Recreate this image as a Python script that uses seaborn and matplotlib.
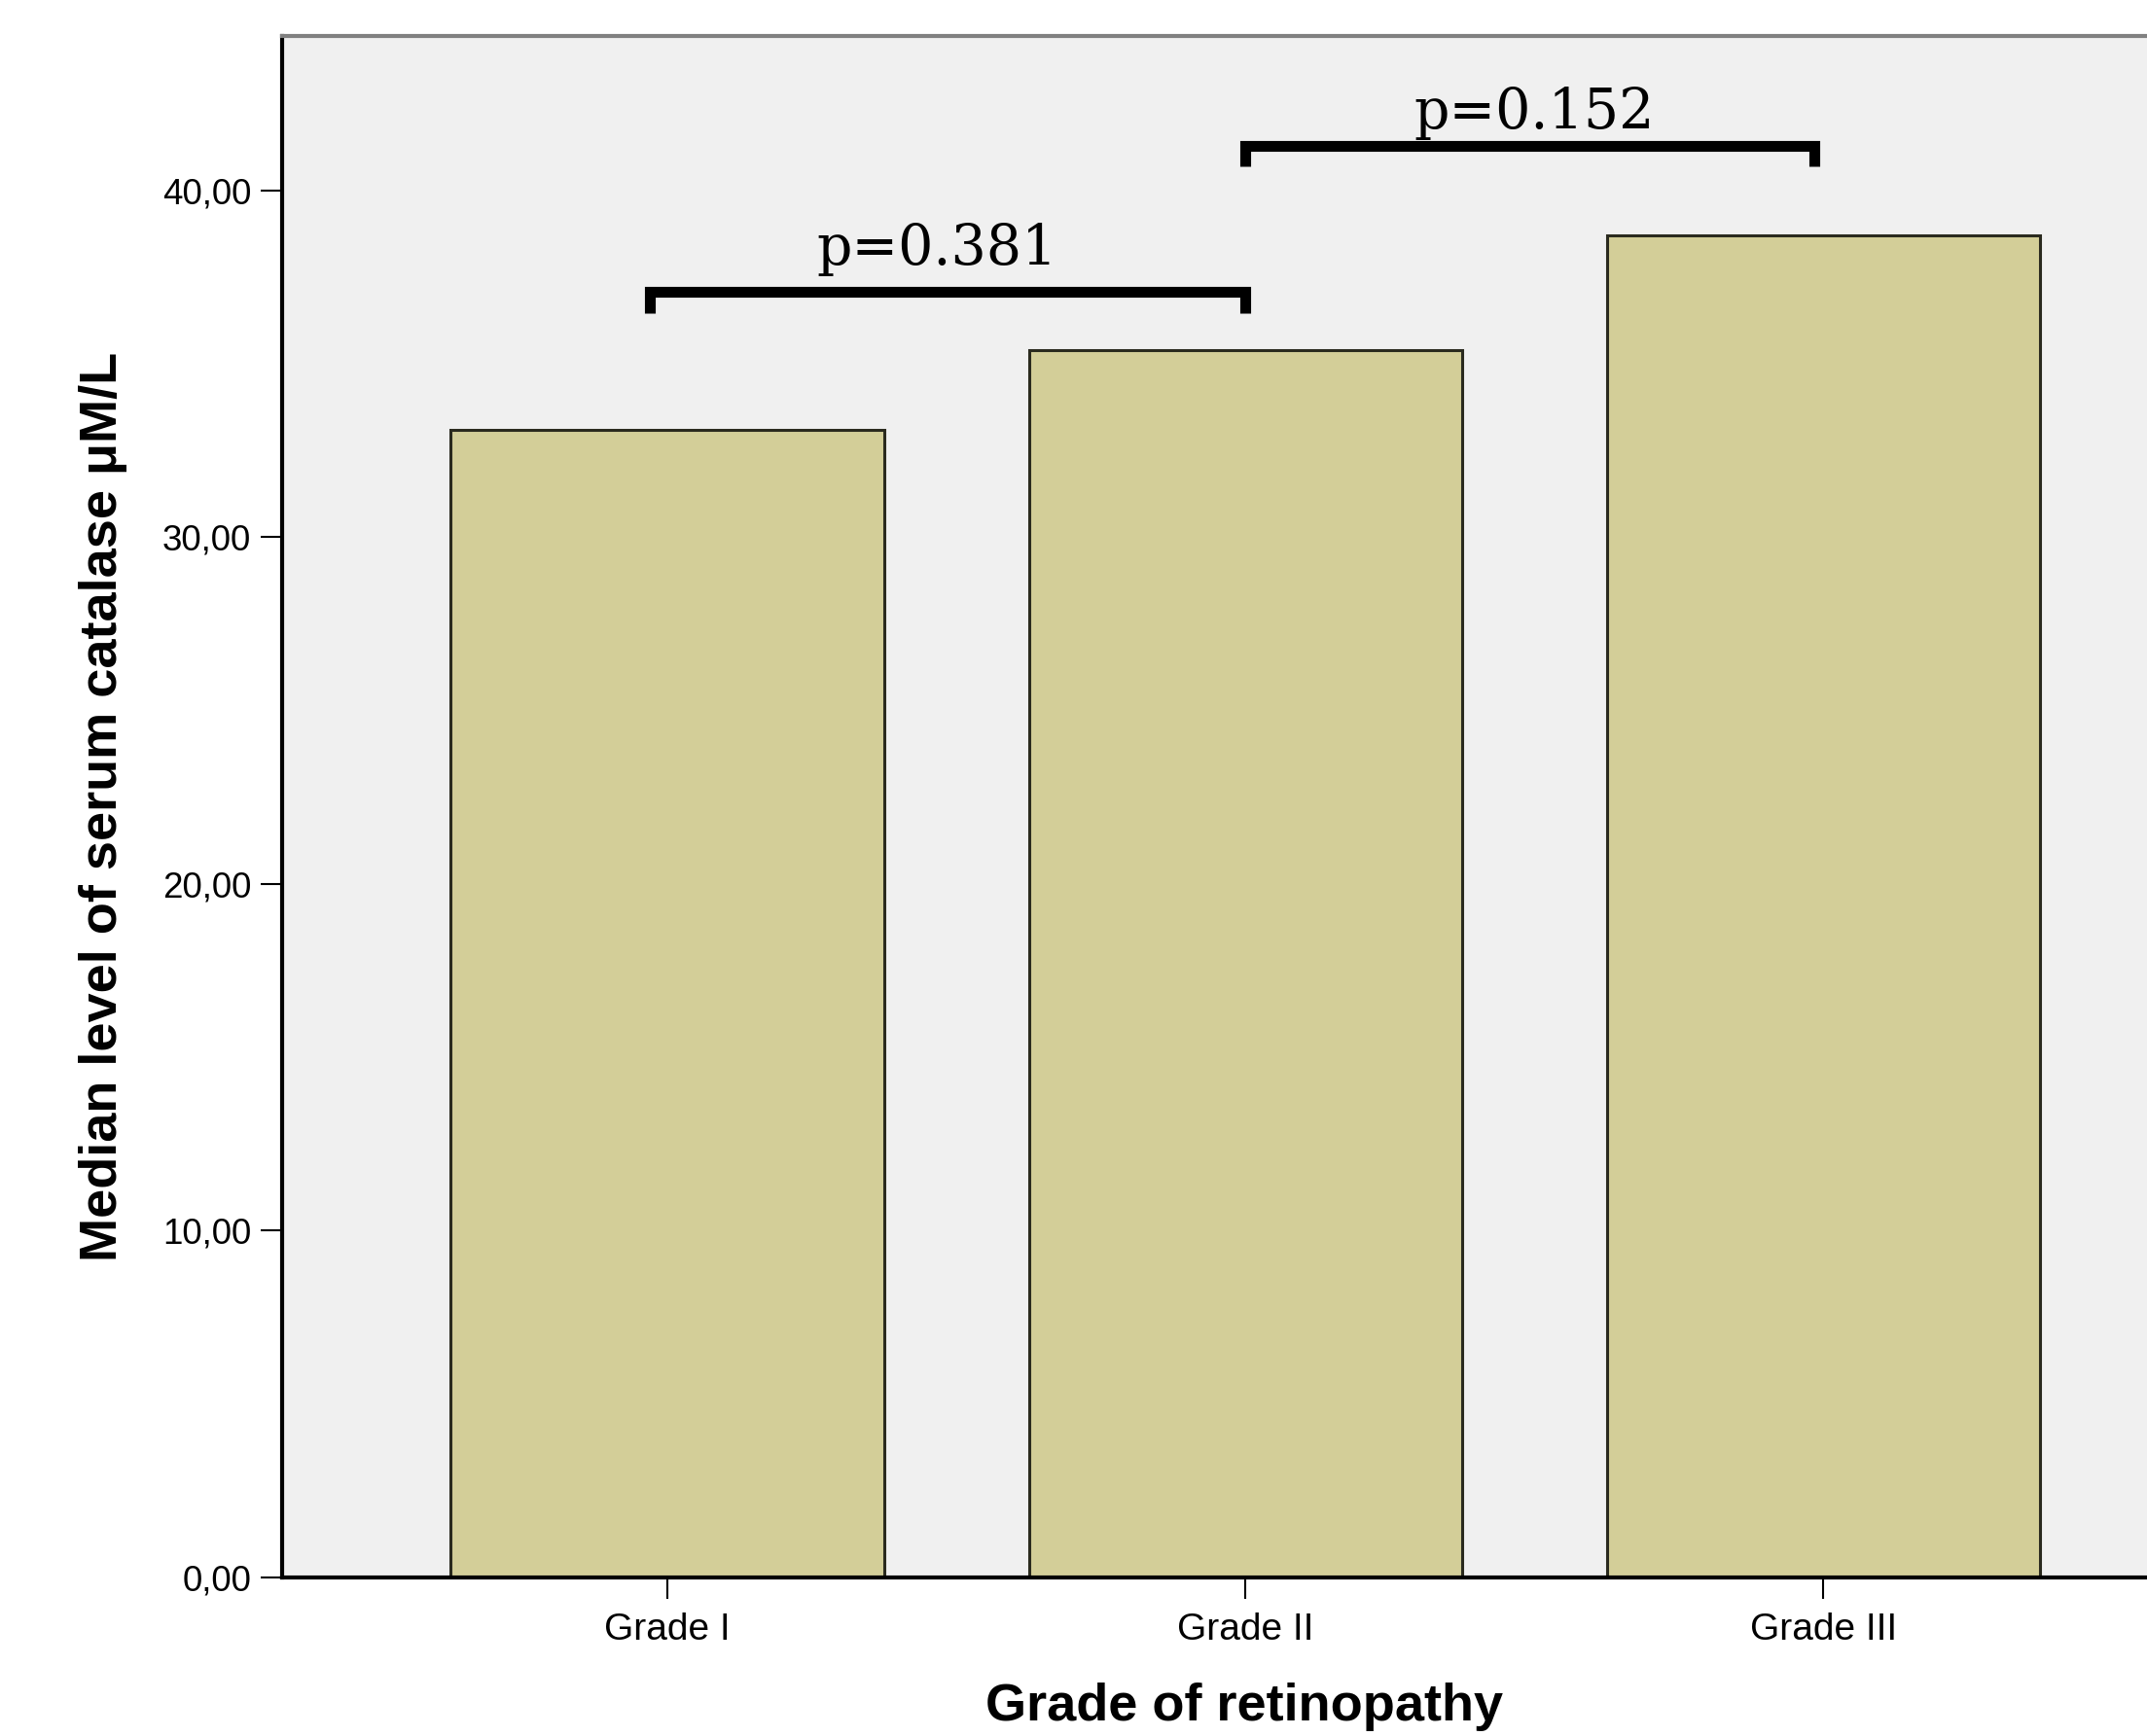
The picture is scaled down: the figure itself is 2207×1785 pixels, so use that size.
import numpy as np
import pandas as pd
import seaborn as sns
import matplotlib.pyplot as plt
from matplotlib.ticker import FuncFormatter

sns.set_style("white")
plt.rcParams["font.family"] = ["Liberation Sans", "DejaVu Sans"]
plt.rcParams["text.color"] = "black"
plt.rcParams["axes.labelcolor"] = "black"
plt.rcParams["xtick.color"] = "black"
plt.rcParams["ytick.color"] = "black"

# data
grades = ["Grade I", "Grade II", "Grade III"]
median_catalase = [33.1, 35.4, 38.7]
p_labels = ["p=0.381", "p=0.152"]
p_pairs = [(0, 1), (1, 2)]

df = pd.DataFrame({"grade": grades, "catalase": median_catalase})

fig = plt.figure(figsize=(22.07, 17.85), dpi=100)
ax = fig.add_axes([0.1314, 0.0913, 0.8686, 0.888])
ax.set_facecolor("#f0f0f0")

sns.barplot(data=df, x="grade", y="catalase", color="#d3ce98", saturation=1,
            edgecolor="#2a2a1e", linewidth=2.2, width=0.75, ax=ax)

# significance brackets
bracket_y = [37.07, 41.28]
bracket_off = [(-0.03, 0.0), (0.0, -0.015)]
text_x = [0.466, 1.5]
text_y = [37.85, 41.78]
for (i, j), (oi, oj), y, lab, tx, ty in zip(p_pairs, bracket_off, bracket_y,
                                            p_labels, text_x, text_y):
    xl, xr = i + oi, j + oj
    ax.plot([xl, xl, xr, xr], [y - 0.6, y, y, y - 0.6], color="black",
            lw=8, solid_joinstyle="miter", solid_capstyle="butt")
    ax.text(tx, ty, lab, ha="center", va="baseline", fontsize=41,
            family="DejaVu Serif", color="black")

ax.set_xlim(-0.667, 2.56)
ax.set_ylim(0, 44.45)
ax.set_yticks([0, 10, 20, 30, 40])
ax.yaxis.set_major_formatter(FuncFormatter(lambda v, p: f"{v:.2f}".replace(".", ",")))

ax.tick_params(axis="y", length=16, width=1.5, pad=7, labelsize=26.5, left=True,
               direction="out", color="black", labelcolor="black")
ax.tick_params(axis="x", length=16, width=1.5, pad=10, labelsize=28, bottom=True,
               direction="out", color="black", labelcolor="black")

for s in ["left", "bottom"]:
    ax.spines[s].set_color("black")
    ax.spines[s].set_linewidth(3)
ax.spines["top"].set_color("#808080")
ax.spines["top"].set_linewidth(3)
ax.spines["right"].set_visible(False)

ax.set_ylabel("Median level of serum catalase μM/L", fontsize=39, fontweight="bold",
              color="black")
ax.set_xlabel("Grade of retinopathy", fontsize=39, fontweight="bold", color="black")
ax.yaxis.set_label_coords(-0.083, 0.5)
ax.xaxis.set_label_coords(0.516, -0.068)

fig.savefig("out.png", dpi=100)
